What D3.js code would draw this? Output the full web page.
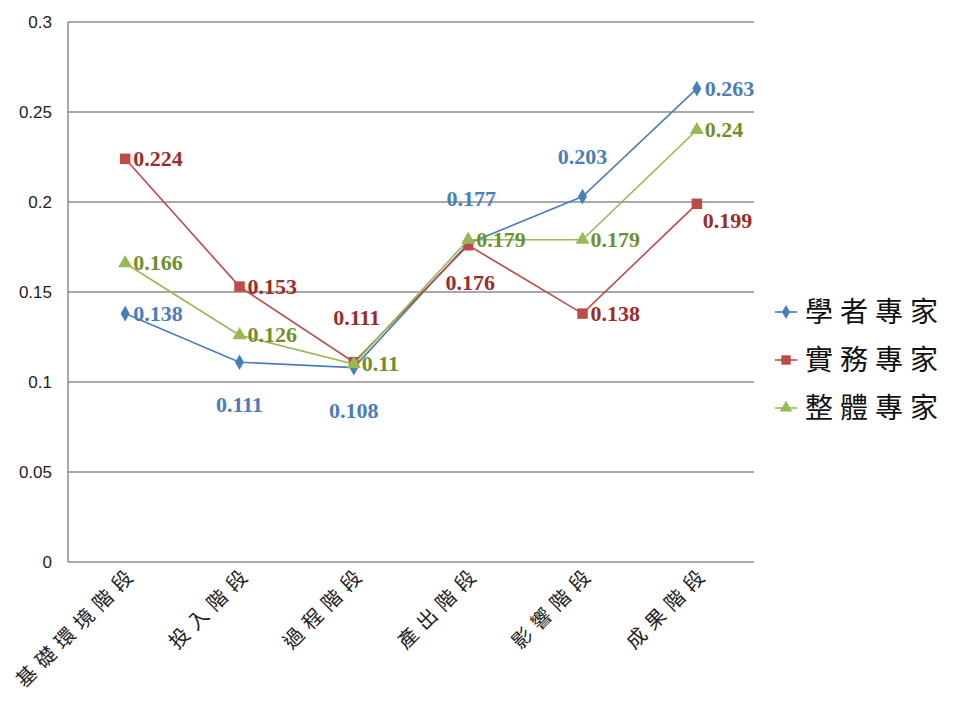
<!DOCTYPE html>
<html>
<head>
<meta charset="utf-8">
<script src="https://cdn.jsdelivr.net/npm/d3@7"></script>
<style>
  body { margin: 0; background: #fff; }
  #chart { width: 955px; height: 707px; }
</style>
</head>
<body>
<div id="chart"></div>
<script>
// stage categories and expert-group weights
const categories = ["基礎環境階段", "投入階段", "過程階段", "產出階段", "影響階段", "成果階段"];
const scholar = [0.138, 0.111, 0.108, 0.177, 0.203, 0.263];
const practice = [0.224, 0.153, 0.111, 0.176, 0.138, 0.199];
const overall = [0.166, 0.126, 0.11, 0.179, 0.179, 0.24];
const seriesNames = ["學者專家", "實務專家", "整體專家"];
const yTicks = [0, 0.05, 0.1, 0.15, 0.2, 0.25, 0.3];

// label placement per point (keys into offsets below)
const scholarPos = ["r", "b", "b", "a2", "a", "r"];
const practicePos = ["r", "r", "a2", "b2", "r", "br"];
const overallPos = ["r", "r", "r", "r", "r", "r"];

const series = [
    { name: seriesNames[0], values: scholar, pos: scholarPos, color: "#4a7ebb", text: "#4a7ebb", shape: d3.symbolDiamond, size: 70 },
    { name: seriesNames[1], values: practice, pos: practicePos, color: "#be4b48", text: "#9b2d2b", shape: d3.symbolSquare, size: 110 },
    { name: seriesNames[2], values: overall, pos: overallPos, color: "#98b954", text: "#6f8f2e", shape: d3.symbolTriangle, size: 85 }
];

const margin = { top: 22, left: 68 };
const width = 686, height = 540;

const svg = d3.select("#chart").append("svg")
    .attr("width", 955).attr("height", 707);
const g = svg.append("g").attr("transform", `translate(${margin.left},${margin.top})`);

const x = d3.scaleBand().domain(categories).range([0, width]);
const y = d3.scaleLinear().domain([0, 0.3]).range([height, 0]);
const cx = c => x(c) + x.bandwidth() / 2;

// gridlines
g.selectAll(".grid").data(yTicks).join("line")
    .attr("x1", 0).attr("x2", width)
    .attr("y1", d => y(d)).attr("y2", d => y(d))
    .attr("stroke", "#8c8c8c").attr("stroke-width", 1.5);
g.append("line").attr("x1", 0).attr("x2", 0).attr("y1", 0).attr("y2", height)
    .attr("stroke", "#8c8c8c").attr("stroke-width", 1.5);

// y tick labels
g.selectAll(".ytick").data(yTicks).join("text")
    .attr("x", -16).attr("y", d => y(d) + 6)
    .attr("text-anchor", "end")
    .style("font-family", "Liberation Sans, Arial, sans-serif")
    .style("font-size", "17px").style("fill", "#222")
    .text(d => d);

// category labels
g.selectAll(".xtick").data(categories).join("text")
    .attr("transform", d => `translate(${cx(d) + 14},${height + 12}) rotate(-45)`)
    .attr("text-anchor", "end")
    .style("font-family", "Noto Sans CJK TC, sans-serif")
    .style("font-size", "20px").style("letter-spacing", "7px").style("fill", "#222")
    .text(d => d);

const line = d3.line().x((d, i) => cx(categories[i])).y(d => y(d));

const offsets = {
    r: [8, 7, "start"], b: [0, 50, "middle"], a: [0, -33, "middle"],
    a2: [3, -37, "middle"], b2: [2, 45, "middle"], br: [6, 24, "start"]
};

series.forEach(s => {
    g.append("path").datum(s.values)
        .attr("fill", "none").attr("stroke", s.color).attr("stroke-width", 1.6)
        .attr("d", line);
    g.selectAll(null).data(s.values).join("path")
        .attr("transform", (d, i) => `translate(${cx(categories[i])},${y(d)})`)
        .attr("d", d3.symbol().type(s.shape).size(s.size))
        .attr("fill", s.color);
    g.selectAll(null).data(s.values).join("text")
        .attr("x", (d, i) => cx(categories[i]) + offsets[s.pos[i]][0])
        .attr("y", (d, i) => y(d) + offsets[s.pos[i]][1])
        .attr("text-anchor", (d, i) => offsets[s.pos[i]][2])
        .style("font-family", "Liberation Serif, Times New Roman, serif")
        .style("font-size", "22px").style("font-weight", "bold")
        .style("fill", s.text)
        .text(d => d);
});

// legend
const legend = svg.append("g").attr("transform", "translate(775,312)");
series.forEach((s, i) => {
    const row = legend.append("g").attr("transform", `translate(0,${i * 48})`);
    row.append("line").attr("x1", 0).attr("x2", 22).attr("stroke", s.color).attr("stroke-width", 1.6);
    row.append("path").attr("transform", "translate(11,0)")
        .attr("d", d3.symbol().type(s.shape).size(s.size * 0.8)).attr("fill", s.color);
    row.append("text").attr("x", 30).attr("y", 10)
        .style("font-family", "Noto Sans CJK TC, sans-serif")
        .style("font-size", "28px").style("letter-spacing", "7px").style("fill", "#111")
        .text(s.name);
});
</script>
</body>
</html>
